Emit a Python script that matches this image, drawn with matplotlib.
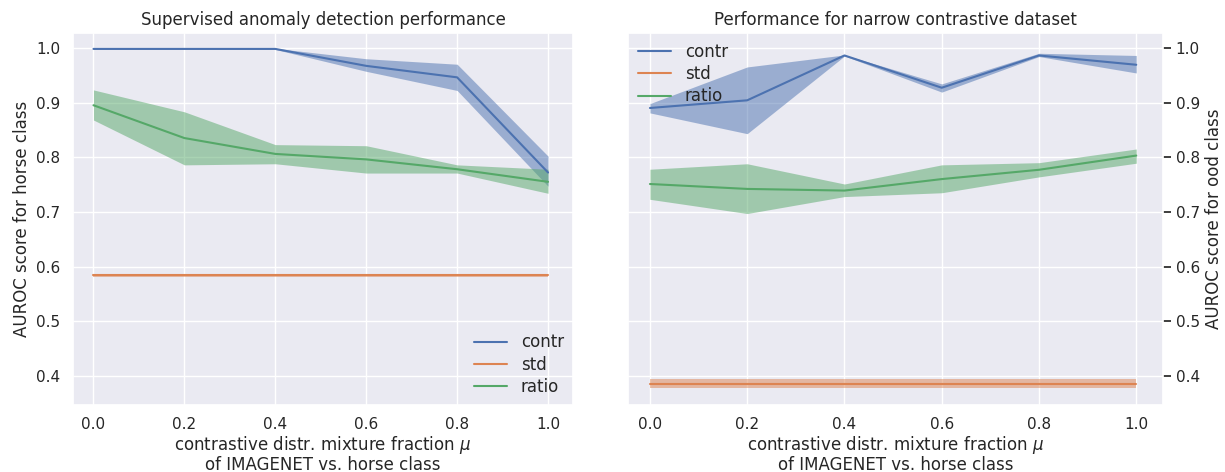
import numpy as np
import matplotlib

matplotlib.use("Agg")
import matplotlib.pyplot as plt
import seaborn as sns

sns.set_theme(style="darkgrid", palette="deep")
plt.rcParams["font.family"] = ["DejaVu Sans"]

mu = [0.0, 0.2, 0.4, 0.6, 0.8, 1.0]

# left: supervised anomaly detection (horse class)
sup_contr = [0.998, 0.998, 0.998, 0.967, 0.946, 0.772]
sup_contr_lo = [0.997, 0.997, 0.997, 0.957, 0.922, 0.747]
sup_contr_hi = [0.999, 0.999, 0.999, 0.980, 0.970, 0.802]
sup_std = [0.584, 0.584, 0.584, 0.584, 0.584, 0.584]
sup_std_lo = [0.581, 0.581, 0.581, 0.581, 0.581, 0.581]
sup_std_hi = [0.587, 0.587, 0.587, 0.587, 0.587, 0.587]
sup_ratio = [0.895, 0.835, 0.806, 0.796, 0.778, 0.755]
sup_ratio_lo = [0.868, 0.786, 0.788, 0.771, 0.771, 0.734]
sup_ratio_hi = [0.923, 0.883, 0.823, 0.821, 0.786, 0.778]

# right: narrow contrastive dataset (ood class)
nar_contr = [0.890, 0.904, 0.986, 0.927, 0.986, 0.969]
nar_contr_lo = [0.881, 0.843, 0.985, 0.919, 0.984, 0.954]
nar_contr_hi = [0.898, 0.965, 0.987, 0.934, 0.990, 0.986]
nar_std = [0.386, 0.386, 0.386, 0.386, 0.386, 0.386]
nar_std_lo = [0.378, 0.378, 0.378, 0.378, 0.378, 0.378]
nar_std_hi = [0.394, 0.394, 0.394, 0.394, 0.394, 0.394]
nar_ratio = [0.751, 0.742, 0.739, 0.760, 0.777, 0.803]
nar_ratio_lo = [0.723, 0.697, 0.728, 0.735, 0.764, 0.789]
nar_ratio_hi = [0.778, 0.788, 0.751, 0.786, 0.790, 0.815]

labels = ["contr", "std", "ratio"]
colors = ["C0", "C1", "C2"]

fig = plt.figure(figsize=(12.25, 4.72), dpi=100)
ax1 = fig.add_axes([0.0596, 0.142, 0.4082, 0.788])
ax2 = fig.add_axes([0.5127, 0.142, 0.4367, 0.788], sharey=ax1)

panels = [
    (ax1, [(sup_contr, sup_contr_lo, sup_contr_hi),
           (sup_std, sup_std_lo, sup_std_hi),
           (sup_ratio, sup_ratio_lo, sup_ratio_hi)]),
    (ax2, [(nar_contr, nar_contr_lo, nar_contr_hi),
           (nar_std, nar_std_lo, nar_std_hi),
           (nar_ratio, nar_ratio_lo, nar_ratio_hi)]),
]
for ax, series in panels:
    for (y, lo, hi), lab, c in zip(series, labels, colors):
        ax.plot(mu, y, color=c, label=lab, lw=1.5)
        ax.fill_between(mu, lo, hi, color=c, alpha=0.5, lw=0)
    ax.set_xlabel("contrastive distr. mixture fraction $\\mu$\nof IMAGENET vs. horse class",
                  fontsize=12, linespacing=1.0, labelpad=1)
    ax.tick_params(labelsize=11, pad=3)
    ax.set_xticks(mu)
    ax.set_xlim(-0.045, 1.055)

ax1.set_ylim(0.347, 1.027)
ax1.set_yticks([0.4, 0.5, 0.6, 0.7, 0.8, 0.9, 1.0])
ax1.set_title("Supervised anomaly detection performance", fontsize=12)
ax2.set_title("Performance for narrow contrastive dataset", fontsize=12)
ax1.set_ylabel("AUROC score for horse class", fontsize=12)
ax2.set_ylabel("AUROC score for ood class", fontsize=12)
ax2.yaxis.set_label_position("right")
ax2.yaxis.tick_right()
ax2.tick_params(axis="y", labelleft=False, labelright=True)

ax1.legend(loc="lower right", frameon=False, fontsize=12,
           labelspacing=0.25, borderaxespad=0.15)
ax2.legend(loc="upper left", frameon=False, fontsize=12,
           labelspacing=0.25, borderaxespad=0.2, handletextpad=0.8)

fig.savefig("out.png", dpi=100)
